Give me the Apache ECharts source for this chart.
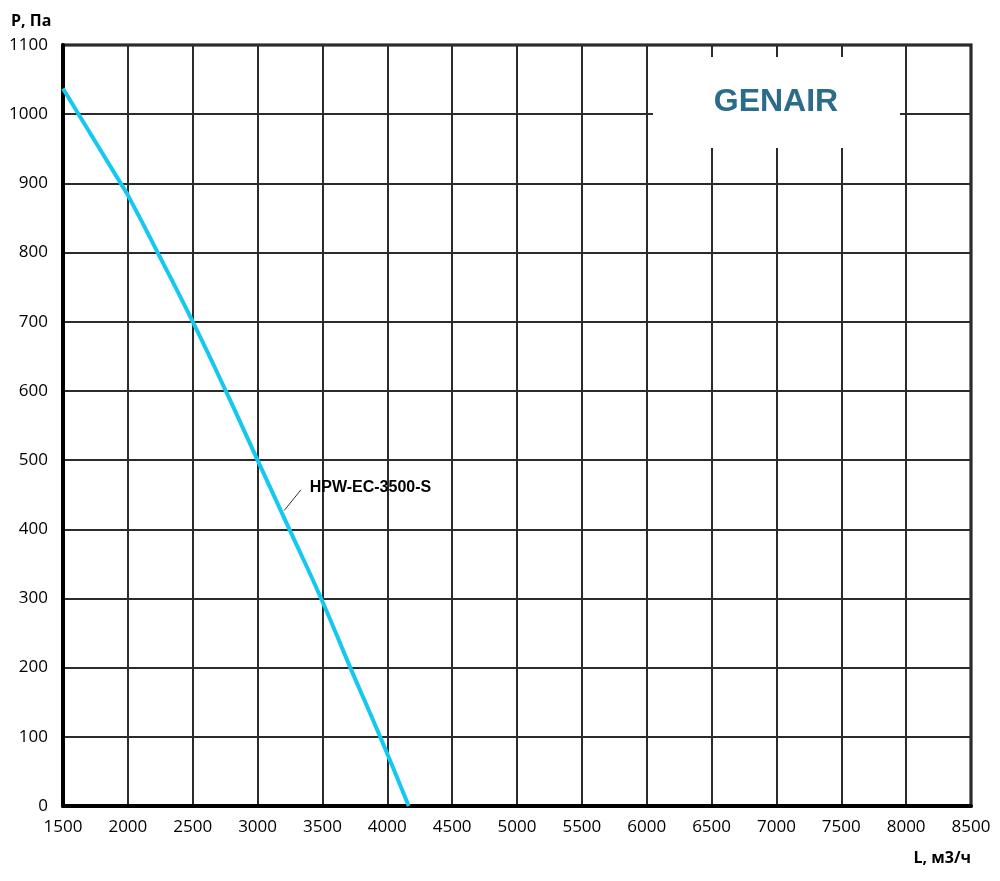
<!DOCTYPE html>
<html>
<head>
<meta charset="utf-8">
<script src="https://cdn.jsdelivr.net/npm/echarts@6/dist/echarts.min.js"></script>
<style>
    html, body { margin: 0; padding: 0; background: #fff; }
    #chart { width: 1000px; height: 881px; }
</style>
</head>
<body>
<div id="chart"></div>
<script>
// расход воздуха, м3/ч
var flowValues = [1500, 1620, 1945, 2000, 2230, 2500, 2755, 3000, 3250, 3490, 3715, 3945, 4165];
// давление, Па
var pressureValues = [1037, 1000, 900, 883, 800, 700, 600, 500, 398, 300, 200, 100, 0];

var seriesName = 'HPW-EC-3500-S';
var labelPoint = [3402, 460];           // где стоит подпись кривой
var leaderLine = [[3205, 427], [3334, 457]]; // выноска к кривой

var xMin = 1500, xMax = 8500, xStep = 500;
var yMin = 0, yMax = 1100, yStep = 100;

var curve = [];
for (var i = 0; i < flowValues.length; i++) {
    curve.push([flowValues[i], pressureValues[i]]);
}

var labelFont = '"Open Sans", "Liberation Sans", sans-serif';
var gridColor = '#2b2b2b';
var plain = function (v) { return String(v); };

var chart = echarts.init(document.getElementById('chart'));
var option = {
    animation: false,
    backgroundColor: '#fff',
    grid: {
        left: 63, right: 29, top: 45, bottom: 75,
        show: true,
        borderColor: '#000',
        borderWidth: 3
    },
    xAxis: {
        type: 'value',
        min: xMin, max: xMax, interval: xStep,
        name: 'L, м3/ч',
        nameLocation: 'end',
        nameGap: 0,
        nameTextStyle: {
            fontFamily: labelFont, fontWeight: 'bold', fontSize: 16, color: '#000',
            align: 'right', verticalAlign: 'top', padding: [44, 0, 0, 0]
        },
        axisLine: { lineStyle: { color: '#000', width: 4 } },
        axisTick: { show: false },
        axisLabel: { fontFamily: labelFont, fontSize: 17, color: '#000', margin: 13, formatter: plain },
        splitLine: { lineStyle: { color: gridColor, width: 2 } }
    },
    yAxis: {
        type: 'value',
        min: yMin, max: yMax, interval: yStep,
        name: 'P, Па',
        nameLocation: 'end',
        nameGap: 0,
        nameTextStyle: {
            fontFamily: labelFont, fontWeight: 'bold', fontSize: 16, color: '#000',
            align: 'left', verticalAlign: 'bottom', padding: [0, 0, 16, -52]
        },
        axisLine: { show: true, lineStyle: { color: '#000', width: 4 } },
        axisTick: { show: false },
        axisLabel: { fontFamily: labelFont, fontSize: 17, color: '#000', margin: 15, formatter: plain },
        splitLine: { lineStyle: { color: gridColor, width: 2 } }
    },
    graphic: [
        {
            type: 'rect',
            shape: { x: 653, y: 57, width: 247, height: 91 },
            style: { fill: '#fff' },
            z: 10
        },
        {
            type: 'text',
            x: 776, y: 102,
            style: {
                text: 'GENAIR',
                fill: '#2a6c8a',
                font: 'bold 32px "Liberation Sans", Arial, sans-serif',
                textAlign: 'center',
                textVerticalAlign: 'middle'
            },
            z: 11
        }
    ],
    series: [
        {
            name: seriesName,
            type: 'line',
            data: curve,
            smooth: 0.5,
            showSymbol: false,
            lineStyle: { color: '#14c8f0', width: 4 },
            z: 5,
            markLine: {
                silent: true,
                symbol: ['none', 'none'],
                label: { show: false },
                lineStyle: { color: '#333', width: 1, type: 'solid' },
                data: [[{ coord: leaderLine[0] }, { coord: leaderLine[1] }]]
            },
            markPoint: {
                silent: true,
                symbol: 'circle',
                symbolSize: 0,
                data: [{ coord: labelPoint }],
                label: {
                    show: true,
                    position: 'right',
                    distance: 0,
                    formatter: seriesName,
                    fontFamily: '"Liberation Sans", Arial, sans-serif',
                    fontWeight: 'bold',
                    fontSize: 16,
                    color: '#000'
                }
            }
        }
    ]
};
chart.setOption(option);
</script>
</body>
</html>
